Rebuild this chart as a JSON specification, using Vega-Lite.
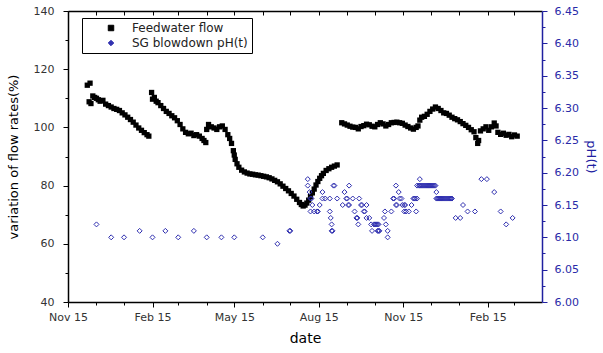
{
  "$schema": "https://vega.github.io/schema/vega-lite/v6.json",
  "width": 474,
  "height": 291,
  "autosize": "none",
  "padding": {"left": 68, "top": 11, "right": 61, "bottom": 51},
  "background": "white",
  "config": {"view": {"stroke": null}, "font": "DejaVu Sans"},
  "datasets": {
    "flow": [
      {"date": "2008/12/06", "flow": 114.5, "series": "Feedwater flow"},
      {"date": "2008/12/08", "flow": 108.8, "series": "Feedwater flow"},
      {"date": "2008/12/09", "flow": 115.2, "series": "Feedwater flow"},
      {"date": "2008/12/10", "flow": 108.2, "series": "Feedwater flow"},
      {"date": "2008/12/12", "flow": 110.8, "series": "Feedwater flow"},
      {"date": "2008/12/14", "flow": 110.3, "series": "Feedwater flow"},
      {"date": "2008/12/16", "flow": 110.0, "series": "Feedwater flow"},
      {"date": "2008/12/18", "flow": 109.5, "series": "Feedwater flow"},
      {"date": "2008/12/20", "flow": 109.0, "series": "Feedwater flow"},
      {"date": "2008/12/23", "flow": 109.3, "series": "Feedwater flow"},
      {"date": "2008/12/26", "flow": 108.0, "series": "Feedwater flow"},
      {"date": "2008/12/29", "flow": 107.5, "series": "Feedwater flow"},
      {"date": "2009/01/01", "flow": 107.0, "series": "Feedwater flow"},
      {"date": "2009/01/04", "flow": 106.5, "series": "Feedwater flow"},
      {"date": "2009/01/07", "flow": 106.2, "series": "Feedwater flow"},
      {"date": "2009/01/10", "flow": 105.8, "series": "Feedwater flow"},
      {"date": "2009/01/13", "flow": 105.0, "series": "Feedwater flow"},
      {"date": "2009/01/16", "flow": 104.3, "series": "Feedwater flow"},
      {"date": "2009/01/19", "flow": 103.5, "series": "Feedwater flow"},
      {"date": "2009/01/22", "flow": 102.7, "series": "Feedwater flow"},
      {"date": "2009/01/25", "flow": 101.8, "series": "Feedwater flow"},
      {"date": "2009/01/28", "flow": 100.8, "series": "Feedwater flow"},
      {"date": "2009/01/31", "flow": 99.8, "series": "Feedwater flow"},
      {"date": "2009/02/03", "flow": 99.0, "series": "Feedwater flow"},
      {"date": "2009/02/06", "flow": 98.2, "series": "Feedwater flow"},
      {"date": "2009/02/09", "flow": 97.5, "series": "Feedwater flow"},
      {"date": "2009/02/11", "flow": 97.0, "series": "Feedwater flow"},
      {"date": "2009/02/14", "flow": 112.0, "series": "Feedwater flow"},
      {"date": "2009/02/15", "flow": 109.7, "series": "Feedwater flow"},
      {"date": "2009/02/17", "flow": 110.3, "series": "Feedwater flow"},
      {"date": "2009/02/19", "flow": 109.0, "series": "Feedwater flow"},
      {"date": "2009/02/21", "flow": 108.5, "series": "Feedwater flow"},
      {"date": "2009/02/24", "flow": 107.5, "series": "Feedwater flow"},
      {"date": "2009/02/27", "flow": 106.5, "series": "Feedwater flow"},
      {"date": "2009/03/02", "flow": 105.5, "series": "Feedwater flow"},
      {"date": "2009/03/05", "flow": 104.8, "series": "Feedwater flow"},
      {"date": "2009/03/08", "flow": 104.0, "series": "Feedwater flow"},
      {"date": "2009/03/11", "flow": 103.3, "series": "Feedwater flow"},
      {"date": "2009/03/14", "flow": 102.3, "series": "Feedwater flow"},
      {"date": "2009/03/17", "flow": 101.0, "series": "Feedwater flow"},
      {"date": "2009/03/20", "flow": 99.5, "series": "Feedwater flow"},
      {"date": "2009/03/23", "flow": 98.3, "series": "Feedwater flow"},
      {"date": "2009/03/26", "flow": 97.8, "series": "Feedwater flow"},
      {"date": "2009/03/29", "flow": 98.0, "series": "Feedwater flow"},
      {"date": "2009/04/01", "flow": 97.2, "series": "Feedwater flow"},
      {"date": "2009/04/04", "flow": 97.5, "series": "Feedwater flow"},
      {"date": "2009/04/07", "flow": 97.0, "series": "Feedwater flow"},
      {"date": "2009/04/10", "flow": 96.2, "series": "Feedwater flow"},
      {"date": "2009/04/12", "flow": 95.5, "series": "Feedwater flow"},
      {"date": "2009/04/14", "flow": 94.8, "series": "Feedwater flow"},
      {"date": "2009/04/15", "flow": 99.3, "series": "Feedwater flow"},
      {"date": "2009/04/17", "flow": 101.0, "series": "Feedwater flow"},
      {"date": "2009/04/20", "flow": 100.2, "series": "Feedwater flow"},
      {"date": "2009/04/23", "flow": 99.8, "series": "Feedwater flow"},
      {"date": "2009/04/26", "flow": 99.3, "series": "Feedwater flow"},
      {"date": "2009/04/29", "flow": 100.2, "series": "Feedwater flow"},
      {"date": "2009/05/02", "flow": 100.5, "series": "Feedwater flow"},
      {"date": "2009/05/05", "flow": 99.3, "series": "Feedwater flow"},
      {"date": "2009/05/08", "flow": 97.5, "series": "Feedwater flow"},
      {"date": "2009/05/10", "flow": 96.2, "series": "Feedwater flow"},
      {"date": "2009/05/12", "flow": 94.5, "series": "Feedwater flow"},
      {"date": "2009/05/14", "flow": 92.0, "series": "Feedwater flow"},
      {"date": "2009/05/15", "flow": 90.5, "series": "Feedwater flow"},
      {"date": "2009/05/16", "flow": 89.0, "series": "Feedwater flow"},
      {"date": "2009/05/18", "flow": 87.5, "series": "Feedwater flow"},
      {"date": "2009/05/20", "flow": 86.3, "series": "Feedwater flow"},
      {"date": "2009/05/23", "flow": 85.3, "series": "Feedwater flow"},
      {"date": "2009/05/26", "flow": 84.7, "series": "Feedwater flow"},
      {"date": "2009/05/29", "flow": 84.3, "series": "Feedwater flow"},
      {"date": "2009/06/01", "flow": 84.0, "series": "Feedwater flow"},
      {"date": "2009/06/04", "flow": 83.9, "series": "Feedwater flow"},
      {"date": "2009/06/07", "flow": 83.7, "series": "Feedwater flow"},
      {"date": "2009/06/10", "flow": 83.6, "series": "Feedwater flow"},
      {"date": "2009/06/13", "flow": 83.4, "series": "Feedwater flow"},
      {"date": "2009/06/16", "flow": 83.2, "series": "Feedwater flow"},
      {"date": "2009/06/19", "flow": 83.0, "series": "Feedwater flow"},
      {"date": "2009/06/22", "flow": 82.7, "series": "Feedwater flow"},
      {"date": "2009/06/25", "flow": 82.3, "series": "Feedwater flow"},
      {"date": "2009/06/28", "flow": 81.8, "series": "Feedwater flow"},
      {"date": "2009/07/01", "flow": 81.3, "series": "Feedwater flow"},
      {"date": "2009/07/04", "flow": 80.6, "series": "Feedwater flow"},
      {"date": "2009/07/07", "flow": 79.8, "series": "Feedwater flow"},
      {"date": "2009/07/10", "flow": 79.0, "series": "Feedwater flow"},
      {"date": "2009/07/13", "flow": 78.2, "series": "Feedwater flow"},
      {"date": "2009/07/16", "flow": 77.3, "series": "Feedwater flow"},
      {"date": "2009/07/19", "flow": 76.4, "series": "Feedwater flow"},
      {"date": "2009/07/22", "flow": 75.3, "series": "Feedwater flow"},
      {"date": "2009/07/25", "flow": 74.2, "series": "Feedwater flow"},
      {"date": "2009/07/27", "flow": 73.5, "series": "Feedwater flow"},
      {"date": "2009/07/29", "flow": 73.0, "series": "Feedwater flow"},
      {"date": "2009/07/31", "flow": 73.3, "series": "Feedwater flow"},
      {"date": "2009/08/02", "flow": 74.0, "series": "Feedwater flow"},
      {"date": "2009/08/04", "flow": 75.0, "series": "Feedwater flow"},
      {"date": "2009/08/06", "flow": 76.2, "series": "Feedwater flow"},
      {"date": "2009/08/08", "flow": 77.5, "series": "Feedwater flow"},
      {"date": "2009/08/10", "flow": 78.8, "series": "Feedwater flow"},
      {"date": "2009/08/12", "flow": 80.2, "series": "Feedwater flow"},
      {"date": "2009/08/14", "flow": 81.4, "series": "Feedwater flow"},
      {"date": "2009/08/16", "flow": 82.5, "series": "Feedwater flow"},
      {"date": "2009/08/18", "flow": 83.4, "series": "Feedwater flow"},
      {"date": "2009/08/20", "flow": 84.2, "series": "Feedwater flow"},
      {"date": "2009/08/23", "flow": 85.2, "series": "Feedwater flow"},
      {"date": "2009/08/26", "flow": 85.8, "series": "Feedwater flow"},
      {"date": "2009/08/29", "flow": 86.3, "series": "Feedwater flow"},
      {"date": "2009/09/01", "flow": 86.7, "series": "Feedwater flow"},
      {"date": "2009/09/04", "flow": 87.1, "series": "Feedwater flow"},
      {"date": "2009/09/09", "flow": 101.6, "series": "Feedwater flow"},
      {"date": "2009/09/12", "flow": 101.2, "series": "Feedwater flow"},
      {"date": "2009/09/15", "flow": 100.8, "series": "Feedwater flow"},
      {"date": "2009/09/18", "flow": 100.4, "series": "Feedwater flow"},
      {"date": "2009/09/21", "flow": 100.1, "series": "Feedwater flow"},
      {"date": "2009/09/24", "flow": 100.0, "series": "Feedwater flow"},
      {"date": "2009/09/27", "flow": 99.5, "series": "Feedwater flow"},
      {"date": "2009/09/30", "flow": 100.3, "series": "Feedwater flow"},
      {"date": "2009/10/03", "flow": 100.6, "series": "Feedwater flow"},
      {"date": "2009/10/06", "flow": 101.1, "series": "Feedwater flow"},
      {"date": "2009/10/09", "flow": 100.9, "series": "Feedwater flow"},
      {"date": "2009/10/12", "flow": 100.4, "series": "Feedwater flow"},
      {"date": "2009/10/15", "flow": 100.2, "series": "Feedwater flow"},
      {"date": "2009/10/18", "flow": 101.0, "series": "Feedwater flow"},
      {"date": "2009/10/21", "flow": 101.6, "series": "Feedwater flow"},
      {"date": "2009/10/24", "flow": 101.2, "series": "Feedwater flow"},
      {"date": "2009/10/27", "flow": 100.5, "series": "Feedwater flow"},
      {"date": "2009/10/30", "flow": 101.0, "series": "Feedwater flow"},
      {"date": "2009/11/02", "flow": 101.6, "series": "Feedwater flow"},
      {"date": "2009/11/05", "flow": 101.7, "series": "Feedwater flow"},
      {"date": "2009/11/08", "flow": 101.8, "series": "Feedwater flow"},
      {"date": "2009/11/11", "flow": 101.6, "series": "Feedwater flow"},
      {"date": "2009/11/14", "flow": 101.4, "series": "Feedwater flow"},
      {"date": "2009/11/17", "flow": 100.8, "series": "Feedwater flow"},
      {"date": "2009/11/20", "flow": 100.3, "series": "Feedwater flow"},
      {"date": "2009/11/23", "flow": 99.8, "series": "Feedwater flow"},
      {"date": "2009/11/26", "flow": 99.4, "series": "Feedwater flow"},
      {"date": "2009/11/29", "flow": 100.0, "series": "Feedwater flow"},
      {"date": "2009/12/01", "flow": 100.5, "series": "Feedwater flow"},
      {"date": "2009/12/03", "flow": 102.5, "series": "Feedwater flow"},
      {"date": "2009/12/05", "flow": 103.5, "series": "Feedwater flow"},
      {"date": "2009/12/08", "flow": 103.8, "series": "Feedwater flow"},
      {"date": "2009/12/11", "flow": 104.5, "series": "Feedwater flow"},
      {"date": "2009/12/14", "flow": 105.5, "series": "Feedwater flow"},
      {"date": "2009/12/17", "flow": 106.3, "series": "Feedwater flow"},
      {"date": "2009/12/20", "flow": 107.0, "series": "Feedwater flow"},
      {"date": "2009/12/23", "flow": 106.5, "series": "Feedwater flow"},
      {"date": "2009/12/26", "flow": 105.8, "series": "Feedwater flow"},
      {"date": "2009/12/29", "flow": 105.0, "series": "Feedwater flow"},
      {"date": "2010/01/01", "flow": 104.8, "series": "Feedwater flow"},
      {"date": "2010/01/04", "flow": 104.2, "series": "Feedwater flow"},
      {"date": "2010/01/07", "flow": 103.5, "series": "Feedwater flow"},
      {"date": "2010/01/10", "flow": 103.0, "series": "Feedwater flow"},
      {"date": "2010/01/13", "flow": 102.6, "series": "Feedwater flow"},
      {"date": "2010/01/16", "flow": 102.0, "series": "Feedwater flow"},
      {"date": "2010/01/19", "flow": 101.3, "series": "Feedwater flow"},
      {"date": "2010/01/22", "flow": 100.7, "series": "Feedwater flow"},
      {"date": "2010/01/25", "flow": 100.0, "series": "Feedwater flow"},
      {"date": "2010/01/28", "flow": 99.2, "series": "Feedwater flow"},
      {"date": "2010/01/31", "flow": 98.5, "series": "Feedwater flow"},
      {"date": "2010/02/02", "flow": 96.5, "series": "Feedwater flow"},
      {"date": "2010/02/04", "flow": 94.5, "series": "Feedwater flow"},
      {"date": "2010/02/05", "flow": 95.5, "series": "Feedwater flow"},
      {"date": "2010/02/07", "flow": 98.8, "series": "Feedwater flow"},
      {"date": "2010/02/10", "flow": 99.5, "series": "Feedwater flow"},
      {"date": "2010/02/13", "flow": 100.2, "series": "Feedwater flow"},
      {"date": "2010/02/16", "flow": 99.0, "series": "Feedwater flow"},
      {"date": "2010/02/19", "flow": 100.2, "series": "Feedwater flow"},
      {"date": "2010/02/22", "flow": 101.5, "series": "Feedwater flow"},
      {"date": "2010/02/24", "flow": 100.5, "series": "Feedwater flow"},
      {"date": "2010/02/26", "flow": 98.3, "series": "Feedwater flow"},
      {"date": "2010/03/01", "flow": 97.6, "series": "Feedwater flow"},
      {"date": "2010/03/04", "flow": 98.0, "series": "Feedwater flow"},
      {"date": "2010/03/07", "flow": 97.3, "series": "Feedwater flow"},
      {"date": "2010/03/10", "flow": 97.6, "series": "Feedwater flow"},
      {"date": "2010/03/13", "flow": 96.8, "series": "Feedwater flow"},
      {"date": "2010/03/16", "flow": 97.4, "series": "Feedwater flow"},
      {"date": "2010/03/19", "flow": 97.0, "series": "Feedwater flow"}
    ],
    "ph": [
      {"date": "2008/12/16", "ph": 6.12, "series": "SG blowdown pH(t)"},
      {"date": "2009/01/01", "ph": 6.10, "series": "SG blowdown pH(t)"},
      {"date": "2009/01/15", "ph": 6.10, "series": "SG blowdown pH(t)"},
      {"date": "2009/02/01", "ph": 6.11, "series": "SG blowdown pH(t)"},
      {"date": "2009/02/15", "ph": 6.10, "series": "SG blowdown pH(t)"},
      {"date": "2009/03/01", "ph": 6.11, "series": "SG blowdown pH(t)"},
      {"date": "2009/03/15", "ph": 6.10, "series": "SG blowdown pH(t)"},
      {"date": "2009/04/01", "ph": 6.11, "series": "SG blowdown pH(t)"},
      {"date": "2009/04/15", "ph": 6.10, "series": "SG blowdown pH(t)"},
      {"date": "2009/05/01", "ph": 6.10, "series": "SG blowdown pH(t)"},
      {"date": "2009/05/15", "ph": 6.10, "series": "SG blowdown pH(t)"},
      {"date": "2009/06/15", "ph": 6.10, "series": "SG blowdown pH(t)"},
      {"date": "2009/07/01", "ph": 6.09, "series": "SG blowdown pH(t)"},
      {"date": "2009/07/14", "ph": 6.11, "series": "SG blowdown pH(t)"},
      {"date": "2009/07/15", "ph": 6.11, "series": "SG blowdown pH(t)"},
      {"date": "2009/08/03", "ph": 6.19, "series": "SG blowdown pH(t)"},
      {"date": "2009/08/03", "ph": 6.18, "series": "SG blowdown pH(t)"},
      {"date": "2009/08/05", "ph": 6.17, "series": "SG blowdown pH(t)"},
      {"date": "2009/08/06", "ph": 6.16, "series": "SG blowdown pH(t)"},
      {"date": "2009/08/07", "ph": 6.16, "series": "SG blowdown pH(t)"},
      {"date": "2009/08/08", "ph": 6.15, "series": "SG blowdown pH(t)"},
      {"date": "2009/08/06", "ph": 6.14, "series": "SG blowdown pH(t)"},
      {"date": "2009/08/10", "ph": 6.14, "series": "SG blowdown pH(t)"},
      {"date": "2009/08/13", "ph": 6.14, "series": "SG blowdown pH(t)"},
      {"date": "2009/08/14", "ph": 6.14, "series": "SG blowdown pH(t)"},
      {"date": "2009/08/16", "ph": 6.15, "series": "SG blowdown pH(t)"},
      {"date": "2009/08/19", "ph": 6.17, "series": "SG blowdown pH(t)"},
      {"date": "2009/08/19", "ph": 6.16, "series": "SG blowdown pH(t)"},
      {"date": "2009/08/22", "ph": 6.16, "series": "SG blowdown pH(t)"},
      {"date": "2009/08/27", "ph": 6.16, "series": "SG blowdown pH(t)"},
      {"date": "2009/08/27", "ph": 6.14, "series": "SG blowdown pH(t)"},
      {"date": "2009/08/28", "ph": 6.13, "series": "SG blowdown pH(t)"},
      {"date": "2009/08/29", "ph": 6.12, "series": "SG blowdown pH(t)"},
      {"date": "2009/08/29", "ph": 6.11, "series": "SG blowdown pH(t)"},
      {"date": "2009/08/30", "ph": 6.11, "series": "SG blowdown pH(t)"},
      {"date": "2009/08/31", "ph": 6.18, "series": "SG blowdown pH(t)"},
      {"date": "2009/09/01", "ph": 6.18, "series": "SG blowdown pH(t)"},
      {"date": "2009/09/04", "ph": 6.16, "series": "SG blowdown pH(t)"},
      {"date": "2009/09/10", "ph": 6.15, "series": "SG blowdown pH(t)"},
      {"date": "2009/09/12", "ph": 6.17, "series": "SG blowdown pH(t)"},
      {"date": "2009/09/14", "ph": 6.16, "series": "SG blowdown pH(t)"},
      {"date": "2009/09/15", "ph": 6.16, "series": "SG blowdown pH(t)"},
      {"date": "2009/09/16", "ph": 6.15, "series": "SG blowdown pH(t)"},
      {"date": "2009/09/17", "ph": 6.15, "series": "SG blowdown pH(t)"},
      {"date": "2009/09/17", "ph": 6.18, "series": "SG blowdown pH(t)"},
      {"date": "2009/09/21", "ph": 6.16, "series": "SG blowdown pH(t)"},
      {"date": "2009/09/23", "ph": 6.14, "series": "SG blowdown pH(t)"},
      {"date": "2009/09/25", "ph": 6.13, "series": "SG blowdown pH(t)"},
      {"date": "2009/09/26", "ph": 6.13, "series": "SG blowdown pH(t)"},
      {"date": "2009/09/27", "ph": 6.12, "series": "SG blowdown pH(t)"},
      {"date": "2009/09/28", "ph": 6.16, "series": "SG blowdown pH(t)"},
      {"date": "2009/09/30", "ph": 6.15, "series": "SG blowdown pH(t)"},
      {"date": "2009/10/01", "ph": 6.15, "series": "SG blowdown pH(t)"},
      {"date": "2009/10/03", "ph": 6.14, "series": "SG blowdown pH(t)"},
      {"date": "2009/10/04", "ph": 6.14, "series": "SG blowdown pH(t)"},
      {"date": "2009/10/06", "ph": 6.15, "series": "SG blowdown pH(t)"},
      {"date": "2009/10/06", "ph": 6.13, "series": "SG blowdown pH(t)"},
      {"date": "2009/10/09", "ph": 6.13, "series": "SG blowdown pH(t)"},
      {"date": "2009/10/11", "ph": 6.12, "series": "SG blowdown pH(t)"},
      {"date": "2009/10/12", "ph": 6.11, "series": "SG blowdown pH(t)"},
      {"date": "2009/10/14", "ph": 6.12, "series": "SG blowdown pH(t)"},
      {"date": "2009/10/15", "ph": 6.12, "series": "SG blowdown pH(t)"},
      {"date": "2009/10/16", "ph": 6.12, "series": "SG blowdown pH(t)"},
      {"date": "2009/10/17", "ph": 6.12, "series": "SG blowdown pH(t)"},
      {"date": "2009/10/18", "ph": 6.12, "series": "SG blowdown pH(t)"},
      {"date": "2009/10/19", "ph": 6.12, "series": "SG blowdown pH(t)"},
      {"date": "2009/10/18", "ph": 6.11, "series": "SG blowdown pH(t)"},
      {"date": "2009/10/19", "ph": 6.11, "series": "SG blowdown pH(t)"},
      {"date": "2009/10/20", "ph": 6.11, "series": "SG blowdown pH(t)"},
      {"date": "2009/10/25", "ph": 6.13, "series": "SG blowdown pH(t)"},
      {"date": "2009/10/26", "ph": 6.14, "series": "SG blowdown pH(t)"},
      {"date": "2009/10/27", "ph": 6.12, "series": "SG blowdown pH(t)"},
      {"date": "2009/10/29", "ph": 6.11, "series": "SG blowdown pH(t)"},
      {"date": "2009/10/29", "ph": 6.10, "series": "SG blowdown pH(t)"},
      {"date": "2009/11/02", "ph": 6.14, "series": "SG blowdown pH(t)"},
      {"date": "2009/11/04", "ph": 6.16, "series": "SG blowdown pH(t)"},
      {"date": "2009/11/05", "ph": 6.16, "series": "SG blowdown pH(t)"},
      {"date": "2009/11/07", "ph": 6.18, "series": "SG blowdown pH(t)"},
      {"date": "2009/11/07", "ph": 6.15, "series": "SG blowdown pH(t)"},
      {"date": "2009/11/08", "ph": 6.15, "series": "SG blowdown pH(t)"},
      {"date": "2009/11/10", "ph": 6.17, "series": "SG blowdown pH(t)"},
      {"date": "2009/11/11", "ph": 6.16, "series": "SG blowdown pH(t)"},
      {"date": "2009/11/13", "ph": 6.16, "series": "SG blowdown pH(t)"},
      {"date": "2009/11/14", "ph": 6.15, "series": "SG blowdown pH(t)"},
      {"date": "2009/11/16", "ph": 6.15, "series": "SG blowdown pH(t)"},
      {"date": "2009/11/17", "ph": 6.15, "series": "SG blowdown pH(t)"},
      {"date": "2009/11/16", "ph": 6.14, "series": "SG blowdown pH(t)"},
      {"date": "2009/11/18", "ph": 6.14, "series": "SG blowdown pH(t)"},
      {"date": "2009/11/21", "ph": 6.14, "series": "SG blowdown pH(t)"},
      {"date": "2009/11/24", "ph": 6.15, "series": "SG blowdown pH(t)"},
      {"date": "2009/11/26", "ph": 6.16, "series": "SG blowdown pH(t)"},
      {"date": "2009/11/27", "ph": 6.16, "series": "SG blowdown pH(t)"},
      {"date": "2009/11/28", "ph": 6.16, "series": "SG blowdown pH(t)"},
      {"date": "2009/11/29", "ph": 6.14, "series": "SG blowdown pH(t)"},
      {"date": "2009/11/30", "ph": 6.16, "series": "SG blowdown pH(t)"},
      {"date": "2009/11/30", "ph": 6.18, "series": "SG blowdown pH(t)"},
      {"date": "2009/12/03", "ph": 6.19, "series": "SG blowdown pH(t)"},
      {"date": "2009/12/02", "ph": 6.18, "series": "SG blowdown pH(t)"},
      {"date": "2009/12/03", "ph": 6.18, "series": "SG blowdown pH(t)"},
      {"date": "2009/12/04", "ph": 6.18, "series": "SG blowdown pH(t)"},
      {"date": "2009/12/05", "ph": 6.18, "series": "SG blowdown pH(t)"},
      {"date": "2009/12/06", "ph": 6.18, "series": "SG blowdown pH(t)"},
      {"date": "2009/12/07", "ph": 6.18, "series": "SG blowdown pH(t)"},
      {"date": "2009/12/08", "ph": 6.18, "series": "SG blowdown pH(t)"},
      {"date": "2009/12/09", "ph": 6.18, "series": "SG blowdown pH(t)"},
      {"date": "2009/12/10", "ph": 6.18, "series": "SG blowdown pH(t)"},
      {"date": "2009/12/11", "ph": 6.18, "series": "SG blowdown pH(t)"},
      {"date": "2009/12/12", "ph": 6.18, "series": "SG blowdown pH(t)"},
      {"date": "2009/12/13", "ph": 6.18, "series": "SG blowdown pH(t)"},
      {"date": "2009/12/14", "ph": 6.18, "series": "SG blowdown pH(t)"},
      {"date": "2009/12/15", "ph": 6.18, "series": "SG blowdown pH(t)"},
      {"date": "2009/12/16", "ph": 6.18, "series": "SG blowdown pH(t)"},
      {"date": "2009/12/17", "ph": 6.18, "series": "SG blowdown pH(t)"},
      {"date": "2009/12/18", "ph": 6.18, "series": "SG blowdown pH(t)"},
      {"date": "2009/12/19", "ph": 6.18, "series": "SG blowdown pH(t)"},
      {"date": "2009/12/20", "ph": 6.18, "series": "SG blowdown pH(t)"},
      {"date": "2009/12/21", "ph": 6.17, "series": "SG blowdown pH(t)"},
      {"date": "2009/12/21", "ph": 6.16, "series": "SG blowdown pH(t)"},
      {"date": "2009/12/22", "ph": 6.16, "series": "SG blowdown pH(t)"},
      {"date": "2009/12/23", "ph": 6.16, "series": "SG blowdown pH(t)"},
      {"date": "2009/12/24", "ph": 6.16, "series": "SG blowdown pH(t)"},
      {"date": "2009/12/25", "ph": 6.16, "series": "SG blowdown pH(t)"},
      {"date": "2009/12/26", "ph": 6.16, "series": "SG blowdown pH(t)"},
      {"date": "2009/12/27", "ph": 6.16, "series": "SG blowdown pH(t)"},
      {"date": "2009/12/28", "ph": 6.16, "series": "SG blowdown pH(t)"},
      {"date": "2009/12/29", "ph": 6.16, "series": "SG blowdown pH(t)"},
      {"date": "2009/12/30", "ph": 6.16, "series": "SG blowdown pH(t)"},
      {"date": "2009/12/31", "ph": 6.16, "series": "SG blowdown pH(t)"},
      {"date": "2010/01/01", "ph": 6.16, "series": "SG blowdown pH(t)"},
      {"date": "2010/01/02", "ph": 6.16, "series": "SG blowdown pH(t)"},
      {"date": "2010/01/03", "ph": 6.16, "series": "SG blowdown pH(t)"},
      {"date": "2010/01/04", "ph": 6.16, "series": "SG blowdown pH(t)"},
      {"date": "2010/01/05", "ph": 6.16, "series": "SG blowdown pH(t)"},
      {"date": "2010/01/06", "ph": 6.16, "series": "SG blowdown pH(t)"},
      {"date": "2010/01/07", "ph": 6.16, "series": "SG blowdown pH(t)"},
      {"date": "2010/01/11", "ph": 6.13, "series": "SG blowdown pH(t)"},
      {"date": "2010/01/16", "ph": 6.13, "series": "SG blowdown pH(t)"},
      {"date": "2010/01/19", "ph": 6.15, "series": "SG blowdown pH(t)"},
      {"date": "2010/01/24", "ph": 6.14, "series": "SG blowdown pH(t)"},
      {"date": "2010/02/01", "ph": 6.14, "series": "SG blowdown pH(t)"},
      {"date": "2010/02/08", "ph": 6.19, "series": "SG blowdown pH(t)"},
      {"date": "2010/02/14", "ph": 6.19, "series": "SG blowdown pH(t)"},
      {"date": "2010/02/22", "ph": 6.17, "series": "SG blowdown pH(t)"},
      {"date": "2010/03/01", "ph": 6.14, "series": "SG blowdown pH(t)"},
      {"date": "2010/03/07", "ph": 6.12, "series": "SG blowdown pH(t)"},
      {"date": "2010/03/14", "ph": 6.13, "series": "SG blowdown pH(t)"}
    ]
  },
  "layer": [
    {
      "data": {"name": "flow"},
      "mark": {"type": "point", "shape": "square", "filled": true, "size": 28, "opacity": 1},
      "encoding": {
        "x": {
          "field": "date", "type": "temporal",
          "scale": {"domain": [{"year": 2008, "month": 11, "date": 15}, {"year": 2010, "month": 4, "date": 15}], "nice": false},
          "axis": {
            "orient": "bottom",
            "title": "date",
            "titleFont": "DejaVu Sans", "titleFontSize": 14, "titleFontWeight": "normal", "titleColor": "#000", "titlePadding": 9,
            "values": [
              {"year": 2008, "month": 11, "date": 15}, {"year": 2008, "month": 12, "date": 15},
              {"year": 2009, "month": 1, "date": 15}, {"year": 2009, "month": 2, "date": 15},
              {"year": 2009, "month": 3, "date": 15}, {"year": 2009, "month": 4, "date": 15},
              {"year": 2009, "month": 5, "date": 15}, {"year": 2009, "month": 6, "date": 15},
              {"year": 2009, "month": 7, "date": 15}, {"year": 2009, "month": 8, "date": 15},
              {"year": 2009, "month": 9, "date": 15}, {"year": 2009, "month": 10, "date": 15},
              {"year": 2009, "month": 11, "date": 15}, {"year": 2009, "month": 12, "date": 15},
              {"year": 2010, "month": 1, "date": 15}, {"year": 2010, "month": 2, "date": 15},
              {"year": 2010, "month": 3, "date": 15}
            ],
            "labelExpr": "month(datum.value) % 3 == 1 ? timeFormat(datum.value, '%b %d') : ''",
            "labelFont": "DejaVu Sans", "labelFontSize": 11, "labelColor": "#333", "labelPadding": 4,
            "labelOverlap": false, "labelFlush": false,
            "grid": false,
            "domainColor": "#000", "domainWidth": 1.5,
            "tickColor": "#000", "tickWidth": 1,
            "tickSize": {"condition": {"test": "month(datum.value) % 3 == 1", "value": 5}, "value": 3}
          }
        },
        "y": {
          "field": "flow", "type": "quantitative",
          "scale": {"domain": [40, 140], "nice": false, "zero": false},
          "axis": {
            "orient": "left",
            "title": "variation of flow rates(%)",
            "titleFont": "DejaVu Sans", "titleFontSize": 13, "titleFontWeight": "normal", "titleColor": "#000", "titlePadding": 13,
            "values": [40, 50, 60, 70, 80, 90, 100, 110, 120, 130, 140],
            "labelExpr": "datum.value % 20 == 0 ? datum.label : ''",
            "labelFont": "DejaVu Sans", "labelFontSize": 11, "labelColor": "#333", "labelPadding": 9,
            "grid": false,
            "domainColor": "#000", "domainWidth": 1.5,
            "tickColor": "#000", "tickWidth": 1,
            "tickSize": {"condition": {"test": "datum.value % 20 == 0", "value": 5}, "value": 3}
          }
        },
        "color": {
          "field": "series", "type": "nominal",
          "scale": {"domain": ["Feedwater flow", "SG blowdown pH(t)"], "range": ["#000000", "#3030b0"]},
          "legend": {
            "orient": "none", "legendX": 14, "legendY": 7, "title": null,
            "strokeColor": "#000", "fillColor": "#fff",
            "padding": 4, "symbolOffset": 19, "labelOffset": 15, "rowPadding": 3,
            "symbolSize": 30, "symbolStrokeWidth": 1,
            "labelFont": "DejaVu Sans", "labelFontSize": 12, "labelColor": "#222",
            "encode": {
              "symbols": {
                "fill": {"condition": {"test": "datum.value == 'Feedwater flow'", "value": "#000000"}, "value": "#ffffff"},
                "stroke": {"condition": {"test": "datum.value == 'Feedwater flow'", "value": "#000000"}, "value": "#3030b0"}
              }
            }
          }
        },
        "shape": {
          "field": "series", "type": "nominal",
          "scale": {"domain": ["Feedwater flow", "SG blowdown pH(t)"], "range": ["square", "diamond"]},
          "legend": {
            "orient": "none", "legendX": 14, "legendY": 7, "title": null,
            "strokeColor": "#000", "fillColor": "#fff",
            "padding": 4, "symbolOffset": 19, "labelOffset": 15, "rowPadding": 3,
            "symbolSize": 30, "symbolStrokeWidth": 1,
            "labelFont": "DejaVu Sans", "labelFontSize": 12, "labelColor": "#222",
            "encode": {
              "symbols": {
                "fill": {"condition": {"test": "datum.value == 'Feedwater flow'", "value": "#000000"}, "value": "#ffffff"},
                "stroke": {"condition": {"test": "datum.value == 'Feedwater flow'", "value": "#000000"}, "value": "#3030b0"}
              }
            }
          }
        }
      }
    },
    {
      "data": {"name": "ph"},
      "mark": {"type": "point", "filled": false, "size": 25, "strokeWidth": 1, "opacity": 1},
      "encoding": {
        "x": {
          "field": "date", "type": "temporal",
          "axis": {
            "orient": "top",
            "title": null,
            "labels": false,
            "values": [
              {"year": 2008, "month": 11, "date": 15}, {"year": 2008, "month": 12, "date": 15},
              {"year": 2009, "month": 1, "date": 15}, {"year": 2009, "month": 2, "date": 15},
              {"year": 2009, "month": 3, "date": 15}, {"year": 2009, "month": 4, "date": 15},
              {"year": 2009, "month": 5, "date": 15}, {"year": 2009, "month": 6, "date": 15},
              {"year": 2009, "month": 7, "date": 15}, {"year": 2009, "month": 8, "date": 15},
              {"year": 2009, "month": 9, "date": 15}, {"year": 2009, "month": 10, "date": 15},
              {"year": 2009, "month": 11, "date": 15}, {"year": 2009, "month": 12, "date": 15},
              {"year": 2010, "month": 1, "date": 15}, {"year": 2010, "month": 2, "date": 15},
              {"year": 2010, "month": 3, "date": 15}
            ],
            "grid": false,
            "domainColor": "#000", "domainWidth": 1.5,
            "tickColor": "#000", "tickWidth": 1, "tickSize": -4
          }
        },
        "y": {
          "field": "ph", "type": "quantitative",
          "scale": {"domain": [6.0, 6.45], "nice": false, "zero": false},
          "axis": {
            "orient": "right",
            "title": "pH(t)",
            "titleAngle": 90,
            "titleFont": "DejaVu Sans", "titleFontSize": 13, "titleFontWeight": "normal", "titleColor": "#2020a0", "titlePadding": 5,
            "values": [6.0, 6.025, 6.05, 6.075, 6.1, 6.125, 6.15, 6.175, 6.2, 6.225, 6.25, 6.275, 6.3, 6.325, 6.35, 6.375, 6.4, 6.425, 6.45],
            "labelExpr": "round(datum.value * 1000) % 50 == 0 ? format(datum.value, '.2f') : ''",
            "labelFont": "DejaVu Sans", "labelFontSize": 11, "labelColor": "#2a2aa8", "labelPadding": 7,
            "grid": false,
            "domainColor": "#2020a0", "domainWidth": 1.5,
            "tickColor": "#2020a0", "tickWidth": 1,
            "tickSize": {"condition": {"test": "round(datum.value * 1000) % 50 == 0", "value": 5}, "value": 3}
          }
        },
        "color": {
          "field": "series", "type": "nominal",
          "legend": {
            "orient": "none", "legendX": 14, "legendY": 7, "title": null,
            "strokeColor": "#000", "fillColor": "#fff",
            "padding": 4, "symbolOffset": 19, "labelOffset": 15, "rowPadding": 3,
            "symbolSize": 30, "symbolStrokeWidth": 1,
            "labelFont": "DejaVu Sans", "labelFontSize": 12, "labelColor": "#222",
            "encode": {
              "symbols": {
                "fill": {"condition": {"test": "datum.value == 'Feedwater flow'", "value": "#000000"}, "value": "#ffffff"},
                "stroke": {"condition": {"test": "datum.value == 'Feedwater flow'", "value": "#000000"}, "value": "#3030b0"}
              }
            }
          }
        },
        "shape": {
          "field": "series", "type": "nominal",
          "legend": {
            "orient": "none", "legendX": 14, "legendY": 7, "title": null,
            "strokeColor": "#000", "fillColor": "#fff",
            "padding": 4, "symbolOffset": 19, "labelOffset": 15, "rowPadding": 3,
            "symbolSize": 30, "symbolStrokeWidth": 1,
            "labelFont": "DejaVu Sans", "labelFontSize": 12, "labelColor": "#222",
            "encode": {
              "symbols": {
                "fill": {"condition": {"test": "datum.value == 'Feedwater flow'", "value": "#000000"}, "value": "#ffffff"},
                "stroke": {"condition": {"test": "datum.value == 'Feedwater flow'", "value": "#000000"}, "value": "#3030b0"}
              }
            }
          }
        }
      }
    }
  ],
  "resolve": {"scale": {"y": "independent"}, "axis": {"x": "independent"}}
}
